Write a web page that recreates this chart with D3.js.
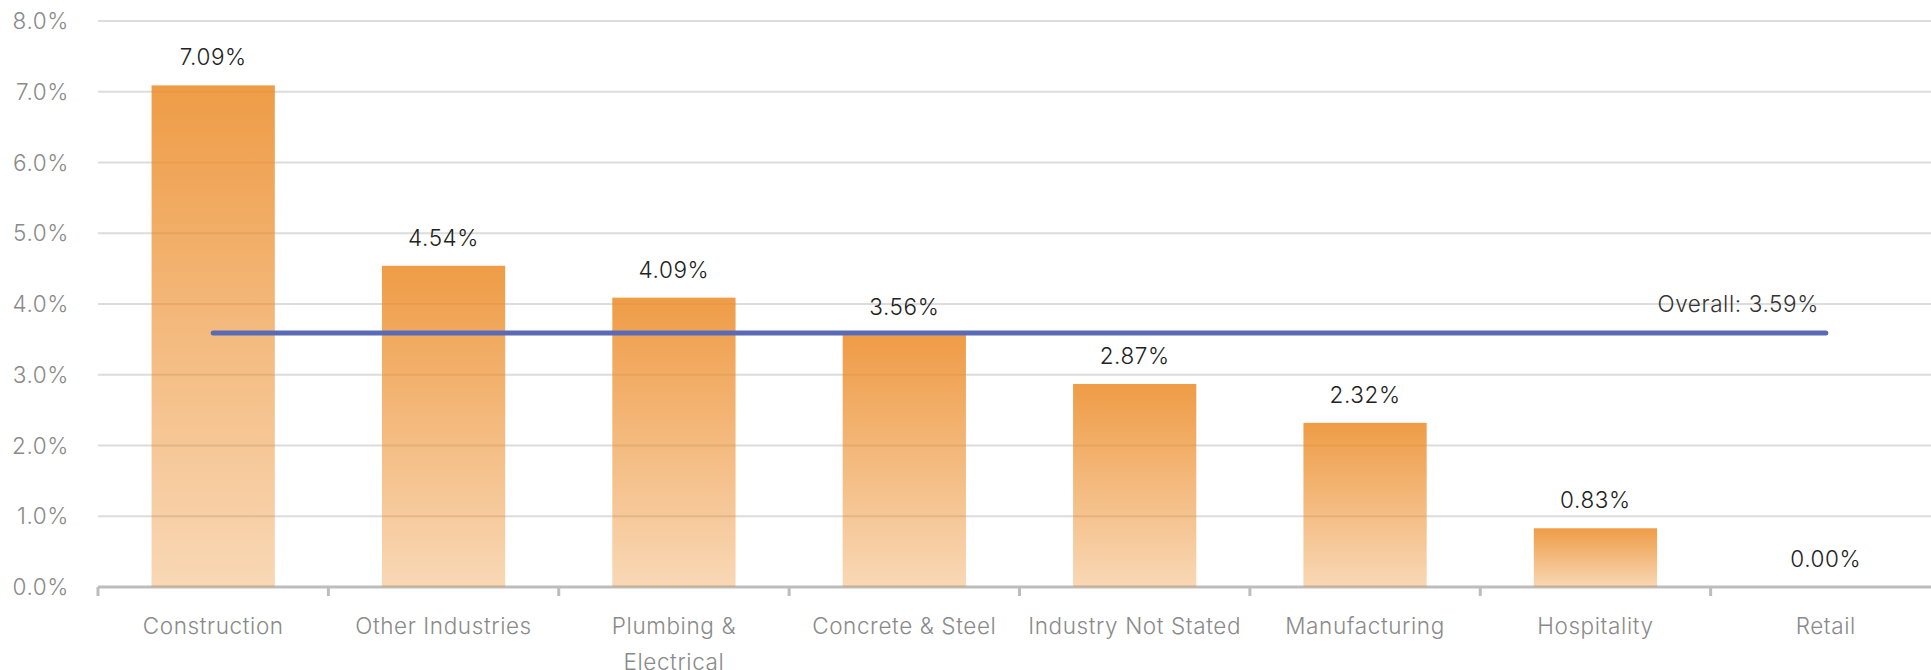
<!DOCTYPE html>
<html>
<head>
<meta charset="utf-8">
<script src="https://cdn.jsdelivr.net/npm/d3@7"></script>
<style>
  html, body { margin: 0; padding: 0; background: #fff; }
  svg { display: block; font-family: "Inter", "Open Sans", sans-serif; font-weight: 300; }
</style>
</head>
<body>
<svg id="chart" width="1931" height="670"></svg>
<script>
// Injury rate by industry
const categories = ["Construction", "Other Industries", "Plumbing & Electrical", "Concrete & Steel",
                    "Industry Not Stated", "Manufacturing", "Hospitality", "Retail"];
const rates = [7.09, 4.54, 4.09, 3.56, 2.87, 2.32, 0.83, 0.00];
const overallRate = 3.59;
const yTicks = [0, 1, 2, 3, 4, 5, 6, 7, 8];

const svg = d3.select("#chart");
const margin = { left: 98, right: -10, top: 21, bottom: 83 };
const W = 1931, H = 670;
const fontSize = 22.5;
const spacing = "0.6px";

const x = d3.scaleBand().domain(categories).range([margin.left, W - margin.right]).padding(0);
const y = d3.scaleLinear().domain([0, 8]).range([H - margin.bottom, margin.top]);
const barW = x.bandwidth() * 0.535;

// gradient for bars: strong at top, fading toward the baseline
const defs = svg.append("defs");
const grad = defs.append("linearGradient")
  .attr("id", "barFill").attr("x1", 0).attr("y1", 0).attr("x2", 0).attr("y2", 1);
grad.append("stop").attr("offset", "0%").attr("stop-color", "rgb(236,140,40)").attr("stop-opacity", 0.86);
grad.append("stop").attr("offset", "100%").attr("stop-color", "rgb(236,140,40)").attr("stop-opacity", 0.34);

// horizontal gridlines
svg.append("g").selectAll("line")
  .data(yTicks.filter(d => d > 0))
  .join("line")
  .attr("x1", margin.left).attr("x2", W)
  .attr("y1", d => y(d)).attr("y2", d => y(d))
  .attr("stroke", "#dcdcdc").attr("stroke-width", 2);

// y tick labels
svg.append("g").selectAll("text")
  .data(yTicks)
  .join("text")
  .attr("x", 69).attr("y", d => y(d)).attr("dy", "0.36em")
  .attr("text-anchor", "end")
  .attr("fill", "#8a8a8a").attr("font-size", fontSize).attr("letter-spacing", spacing)
  .text(d => d3.format(".1f")(d) + "%");

// x axis baseline and ticks
const xAxis = svg.append("g");
xAxis.append("line")
  .attr("x1", margin.left).attr("x2", W)
  .attr("y1", y(0)).attr("y2", y(0))
  .attr("stroke", "#bdbdbd").attr("stroke-width", 3);
const tickPos = categories.map(c => x(c)).concat([x(categories[categories.length - 1]) + x.bandwidth()]);
xAxis.selectAll(".tick")
  .data(tickPos)
  .join("line")
  .attr("x1", d => d).attr("x2", d => d)
  .attr("y1", y(0)).attr("y2", y(0) + 9)
  .attr("stroke", "#bdbdbd").attr("stroke-width", 3);

// bars
svg.append("g").selectAll("rect")
  .data(categories.map((c, i) => ({ c, v: rates[i] })))
  .join("rect")
  .attr("x", d => x(d.c) + (x.bandwidth() - barW) / 2)
  .attr("width", barW)
  .attr("y", d => y(d.v))
  .attr("height", d => y(0) - y(d.v))
  .attr("fill", "url(#barFill)");

// value labels
svg.append("g").selectAll("text")
  .data(categories.map((c, i) => ({ c, v: rates[i] })))
  .join("text")
  .attr("x", d => x(d.c) + x.bandwidth() / 2)
  .attr("y", d => y(d.v) - 20)
  .attr("text-anchor", "middle")
  .attr("fill", "#222").attr("font-size", fontSize).attr("letter-spacing", spacing)
  .text(d => d3.format(".2f")(d.v) + "%");

// category labels, wrapped to the band width
const catLabels = svg.append("g").selectAll("text")
  .data(categories)
  .join("text")
  .attr("x", d => x(d) + x.bandwidth() / 2)
  .attr("y", 634)
  .attr("text-anchor", "middle")
  .attr("fill", "#8a8a8a").attr("font-size", fontSize).attr("letter-spacing", spacing);

catLabels.each(function (d) {
  const t = d3.select(this);
  const words = d.split(" ");
  let line = [];
  let tspan = t.append("tspan").attr("x", x(d) + x.bandwidth() / 2).attr("dy", 0);
  words.forEach(w => {
    line.push(w);
    tspan.text(line.join(" "));
    if (tspan.node().getComputedTextLength() > x.bandwidth() && line.length > 1) {
      line.pop();
      tspan.text(line.join(" "));
      line = [w];
      tspan = t.append("tspan").attr("x", x(d) + x.bandwidth() / 2).attr("dy", 36).text(w);
    }
  });
});

// overall average line
const first = categories[0], last = categories[categories.length - 1];
const x1 = x(first) + x.bandwidth() / 2, x2 = x(last) + x.bandwidth() / 2;
svg.append("line")
  .attr("x1", x1).attr("x2", x2)
  .attr("y1", y(overallRate)).attr("y2", y(overallRate))
  .attr("stroke", "#5b6ab4").attr("stroke-width", 5).attr("stroke-linecap", "round");
svg.append("text")
  .attr("x", x2 - 7).attr("y", y(overallRate) - 21)
  .attr("text-anchor", "end")
  .attr("fill", "#333").attr("font-size", fontSize).attr("letter-spacing", spacing)
  .text("Overall: " + d3.format(".2f")(overallRate) + "%");
</script>
</body>
</html>
